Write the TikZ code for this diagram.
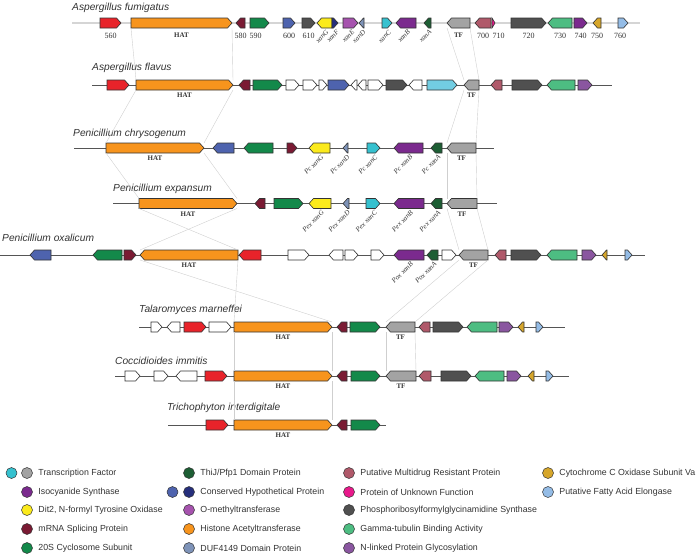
\documentclass[tikz,border=0pt]{standalone}
\usepackage{fontspec}
\setmainfont{Liberation Serif}
\setsansfont{Liberation Sans}
\usetikzlibrary{positioning}

\definecolor{cRed}{HTML}{E8232A}
\definecolor{cHAT}{HTML}{F7941D}
\definecolor{cSplice}{HTML}{7A1A33}
\definecolor{cCyclo}{HTML}{13894A}
\definecolor{cHypo}{HTML}{4E63AE}
\definecolor{cHypoDk}{HTML}{262F7C}
\definecolor{cPRFG}{HTML}{505050}
\definecolor{cDit}{HTML}{FBEA1C}
\definecolor{cOMT}{HTML}{A653AE}
\definecolor{cDUF}{HTML}{7E93B8}
\definecolor{cTFcy}{HTML}{36C1CF}
\definecolor{cTFcyLt}{HTML}{72CDE2}
\definecolor{cTFgr}{HTML}{A3A3A3}
\definecolor{cIso}{HTML}{7B2A8E}
\definecolor{cThiJ}{HTML}{1D5E34}
\definecolor{cMDR}{HTML}{B0596A}
\definecolor{cUnk}{HTML}{E8198B}
\definecolor{cGamma}{HTML}{4DBD82}
\definecolor{cNlink}{HTML}{8A56A0}
\definecolor{cCox}{HTML}{D6A62B}
\definecolor{cElong}{HTML}{94BCE6}
\definecolor{cInk}{HTML}{333333}
\definecolor{cSpine}{HTML}{555555}
\definecolor{cSpineLt}{HTML}{D5D5D5}
\definecolor{cLink}{HTML}{CFCFCF}

\newcommand{\gtip}{4.5}
% gene arrow: name, left x, right x, y, direction (r/l), fill
\newcommand{\gene}[6]{%
  \pgfmathsetmacro{\gwd}{#3-#2}%
  \pgfmathsetmacro{\gtp}{min(\gtip,\gwd)}%
  \node[genebox, minimum width=\gwd pt] (#1) at ({(#2+#3)/2},#4) {};
  \if#5r
    \filldraw[geneline, fill=#6] (#1.south west) -- (#1.north west)
      -- ([xshift=-\gtp pt]#1.north east) -- (#1.east)
      -- ([xshift=-\gtp pt]#1.south east) -- cycle;
  \else
    \filldraw[geneline, fill=#6] (#1.south east) -- (#1.north east)
      -- ([xshift=\gtp pt]#1.north west) -- (#1.west)
      -- ([xshift=\gtp pt]#1.south west) -- cycle;
  \fi}

\begin{document}
\begin{tikzpicture}[
  x=1pt, y=-1pt,
  genebox/.style={minimum height=10pt, inner sep=0pt, outer sep=0pt},
  geneline/.style={draw=cInk, line width=0.6pt},
  spine/.style={draw=cSpine, line width=0.8pt},
  spinelt/.style={draw=cSpineLt, line width=2pt},
  link/.style={draw=cLink, line width=0.4pt},
  species/.style={anchor=base west, inner sep=0pt, text=cInk,
    font=\fontsize{10.2}{12}\selectfont\sffamily\itshape},
  gnum/.style={inner sep=0pt, text=cInk, font=\fontsize{8}{9}\selectfont},
  gbold/.style={inner sep=0pt, text=cInk, font=\fontsize{7}{8}\selectfont\bfseries},
  xlab/.style={anchor=east, rotate=45, inner sep=0pt, text=cInk,
    font=\fontsize{7}{8}\selectfont\itshape},
  ldot/.style={circle, draw=cInk, line width=0.5pt, minimum size=11pt, inner sep=0pt},
  ltxt/.style={inner sep=0pt, text=cInk, font=\fontsize{8.8}{10}\selectfont\sffamily},
]
\useasboundingbox (0,0) rectangle (696,557);

% ---- Aspergillus fumigatus -----------------------------------------------
\draw[spinelt] (72,23) -- (640,23);
\node[species] (sp-fu) at (72,10.5) {Aspergillus fumigatus};
\foreach \n/\a/\b/\d/\c in {fu560/100/121/r/cRed, fu-hat/131/232/r/cHAT,
    fu580/236/245/l/cSplice, fu590/250/269/r/cCyclo, fu600/283/295/r/cHypo,
    fu610/302/315/r/cPRFG, fuG/317/332/l/cDit, fuF/332/338/r/cHypoDk,
    fuE/343/358/r/cOMT, fuD/359/364/l/cDUF, fuC/382/392/r/cTFcy,
    fuB/396/416/l/cIso, fuA/424/431/l/cThiJ, fu-tf/447/470/l/cTFgr,
    fu700/475/491/l/cMDR, fu710/492/495/r/cUnk, fu720/511/546/r/cPRFG,
    fu730/548/572/l/cGamma, fu740/574/587/r/cIso, fu750/593/601/l/cCox,
    fu760/618/628/r/cElong}
  {\gene{\n}{\a}{\b}{23}{\d}{\c}}
\foreach \n/\t/\s in {fu560/560/0, fu580/580/0, fu590/590/-4, fu600/600/0,
    fu610/610/0, fu700/700/0, fu710/710/5, fu720/720/0, fu730/730/0,
    fu740/740/0, fu750/750/0, fu760/760/-3}
  \node[gnum, below=5pt of \n, xshift=\s pt] (\n-t) {\t};
\foreach \n/\t in {fuG/xanG, fuF/xanF, fuE/xanE, fuD/xanD, fuC/xanC,
    fuB/xanB, fuA/xanA}
  \node[xlab] (\n-t) at ([xshift=3pt,yshift=-3pt]\n.south) {\t};

% ---- Aspergillus flavus ---------------------------------------------------
\draw[spine] (92,85) -- (612,85);
\node[species] (sp-fl) at (92,70) {Aspergillus flavus};
\foreach \n/\a/\b/\d/\c in {fl1/107/129/r/cRed, fl-hat/136/233/r/cHAT,
    fl3/239/250/l/cSplice, fl4/253/282/r/cCyclo, fl5/286/299/r/white,
    fl6/303/317/r/white, fl7/319/327/r/white, fl8/328/349/r/cHypo,
    fl9/351/357/l/white, fl10/358/366/l/white, fl11/368/383/r/white,
    fl12/386/407/r/cPRFG, fl13/409/422/l/white, fl14/427/457/r/cTFcyLt,
    fl-tf/464/479/l/cTFgr, fl16/491/502/l/cMDR, fl17/512/542/r/cPRFG,
    fl18/547/575/l/cGamma, fl19/578/592/r/cNlink}
  {\gene{\n}{\a}{\b}{85}{\d}{\c}}

% ---- Penicillium chrysogenum ----------------------------------------------
\draw[spine] (74,148) -- (494,148);
\node[species] (sp-pc) at (73,136) {Penicillium chrysogenum};
\foreach \n/\a/\b/\d/\c in {pc-hat/106/204/r/cHAT, pc2/213/234/l/cHypo,
    pc3/244/273/l/cCyclo, pc4/287/297/r/cSplice, pcG/309/330/l/cDit,
    pcD/343/348/l/cDUF, pcC/367/380/r/cTFcy, pcB/394/423/l/cIso,
    pcA/431/442/l/cThiJ, pc-tf/447/476/l/cTFgr}
  {\gene{\n}{\a}{\b}{148}{\d}{\c}}
\foreach \n/\t in {pcG/xanG, pcD/xanD, pcC/xanC, pcB/xanB, pcA/xanA}
  \node[xlab] (\n-t) at ([xshift=3pt,yshift=-3pt]\n.south) {Pc \t};

% ---- Penicillium expansum -------------------------------------------------
\draw[spine] (113,203.5) -- (497,203.5);
\node[species] (sp-pe) at (113,191.5) {Penicillium expansum};
\foreach \n/\a/\b/\d/\c in {pe-hat/139/237/r/cHAT, pe2/255/265/l/cSplice,
    pe3/274/303/r/cCyclo, peG/309/331/l/cDit, peD/343/349/l/cDUF,
    peC/366/380/r/cTFcy, peB/394/424/l/cIso, peA/431/442/l/cThiJ,
    pe-tf/447/477/l/cTFgr}
  {\gene{\n}{\a}{\b}{203.5}{\d}{\c}}
\foreach \n/\t in {peG/xanG, peD/xanD, peC/xanC, peB/xanB, peA/xanA}
  \node[xlab] (\n-t) at ([xshift=3pt,yshift=-3pt]\n.south) {Pex \t};

% ---- Penicillium oxalicum -------------------------------------------------
\draw[spine] (0,255) -- (645,255);
\node[species] (sp-po) at (2,241) {Penicillium oxalicum};
\foreach \n/\a/\b/\d/\c in {po1/30/51/l/cHypo, po2/93/122/l/cCyclo,
    po3/124/136/r/cSplice, po-hat/140/238/l/cHAT, po5/239/261/l/cRed,
    po6/288/309/r/white, po7/329/343/l/white, po8/345/358/r/white,
    po9/371/384/r/white, poB/394/424/l/cIso, poA/427/438/l/cThiJ,
    po12/442/456/r/white, po-tf/459/488/l/cTFgr, po14/495/506/l/cMDR,
    po15/511/541/r/cPRFG, po16/547/577/l/cGamma, po17/582/596/r/cNlink,
    po18/602/607/l/cCox, po19/625/632/r/cElong}
  {\gene{\n}{\a}{\b}{255}{\d}{\c}}
\foreach \n/\t in {poB/xanB, poA/xanA}
  \node[xlab] (\n-t) at ([xshift=3pt,yshift=-3pt]\n.south) {Pox \t};

% ---- Talaromyces marneffei ------------------------------------------------
\draw[spine] (139,327) -- (565,327);
\node[species] (sp-tm) at (139,312) {Talaromyces marneffei};
\foreach \n/\a/\b/\d/\c in {tm1/151/162/r/white, tm2/167/180/l/white,
    tm3/184/206/r/cRed, tm4/209/231/r/white, tm-hat/234/332/r/cHAT,
    tm6/337/347/l/cSplice, tm7/350/380/r/cCyclo, tm-tf/386/415/l/cTFgr,
    tm9/419/430/l/cMDR, tm10/433/463/r/cPRFG, tm11/467/497/l/cGamma,
    tm12/499/513/r/cNlink, tm13/518/524/l/cCox, tm14/536/543/r/cElong}
  {\gene{\n}{\a}{\b}{327}{\d}{\c}}

% ---- Coccidioides immitis -------------------------------------------------
\draw[spine] (115,376) -- (569,376);
\node[species] (sp-ci) at (115,364) {Coccidioides immitis};
\foreach \n/\a/\b/\d/\c in {ci1/125/140/r/white, ci2/154/168/r/white,
    ci3/176/197/l/white, ci4/205/227/r/cRed, ci-hat/234/332/r/cHAT,
    ci6/337/347/l/cSplice, ci7/351/380/r/cCyclo, ci-tf/386/416/l/cTFgr,
    ci9/419/431/l/cMDR, ci10/441/471/r/cPRFG, ci11/475/504/l/cGamma,
    ci12/507/521/r/cNlink, ci13/528/534/l/cCox, ci14/546/553/r/cElong}
  {\gene{\n}{\a}{\b}{376}{\d}{\c}}

% ---- Trichophyton interdigitale -------------------------------------------
\draw[spine] (168,425) -- (386,425);
\node[species] (sp-ti) at (167,410) {Trichophyton interdigitale};
\foreach \n/\a/\b/\d/\c in {ti1/206/228/r/cRed, ti-hat/234/332/r/cHAT,
    ti3/337/347/l/cSplice, ti4/351/380/r/cCyclo}
  {\gene{\n}{\a}{\b}{425}{\d}{\c}}

% ---- HAT / TF labels and homology links -----------------------------------
\node[gbold, below=5pt of fu-hat] (fu-hatl) {HAT};
\node[gbold, below=5pt of fu-tf] (fu-tfl) {TF};
\foreach \r in {fl,pc,pe,po,tm,ci,ti}
  \node[gbold, below=3pt of \r-hat] (\r-hatl) {HAT};
\foreach \r in {fl,pc,pe,po,tm,ci}
  \node[gbold, below=3pt of \r-tf] (\r-tfl) {TF};

\foreach \u/\v in {fu/fl, fl/pc, pc/pe, tm/ci, ci/ti}{
  \draw[link] (\u-hat.south west) -- (\v-hat.north west);
  \draw[link] (\u-hat.south east) -- (\v-hat.north east);}
\foreach \u/\v in {pe/po, po/tm}{
  \draw[link] (\u-hat.south west) -- (\v-hat.north east);
  \draw[link] (\u-hat.south east) -- (\v-hat.north west);}
\foreach \u/\v in {fu/fl, fl/pc, pc/pe, pe/po, po/tm, tm/ci}{
  \draw[link] (\u-tf.south west) -- (\v-tf.north west);
  \draw[link] (\u-tf.south east) -- (\v-tf.north east);}

% ---- legend ----------------------------------------------------------------
\foreach \k/\x/\y/\c/\t in {
    1/27/473/cTFgr/Transcription Factor, 2/27/492/cIso/Isocyanide Synthase,
    3/27/510/cDit/{Dit2, N-formyl Tyrosine Oxidase},
    4/27/529/cSplice/mRNA Splicing Protein, 5/27/548/cCyclo/20S Cyclosome Subunit,
    6/189/473/cThiJ/{ThiJ/Pfp1 Domain Protein},
    7/189/492/cHypoDk/Conserved Hypothetical Protein,
    8/189/510/cOMT/O-methyltransferase, 9/189/529/cHAT/Histone Acetyltransferase,
    10/189/548/cDUF/DUF4149 Domain Protein,
    11/349/473/cMDR/Putative Multidrug Resistant Protein,
    12/349/492/cUnk/Protein of Unknown Function,
    13/349/510/cPRFG/Phosphoribosylformylglycinamidine Synthase,
    14/349/529/cGamma/Gamma-tubulin Binding Activity,
    15/349/548/cNlink/N-linked Protein Glycosylation,
    16/548/473/cCox/Cytochrome C Oxidase Subunit Va,
    17/548/492/cElong/Putative Fatty Acid Elongase}{
  \node[ldot, fill=\c] (lg\k) at (\x,\y) {};
  \node[ltxt, right=5.5pt of lg\k] (lg\k-t) {\t};}
\node[ldot, fill=cTFcy, left=4pt of lg1] (lg1x) {};
\node[ldot, fill=cHypo, left=5pt of lg7] (lg7x) {};
\end{tikzpicture}
\end{document}
